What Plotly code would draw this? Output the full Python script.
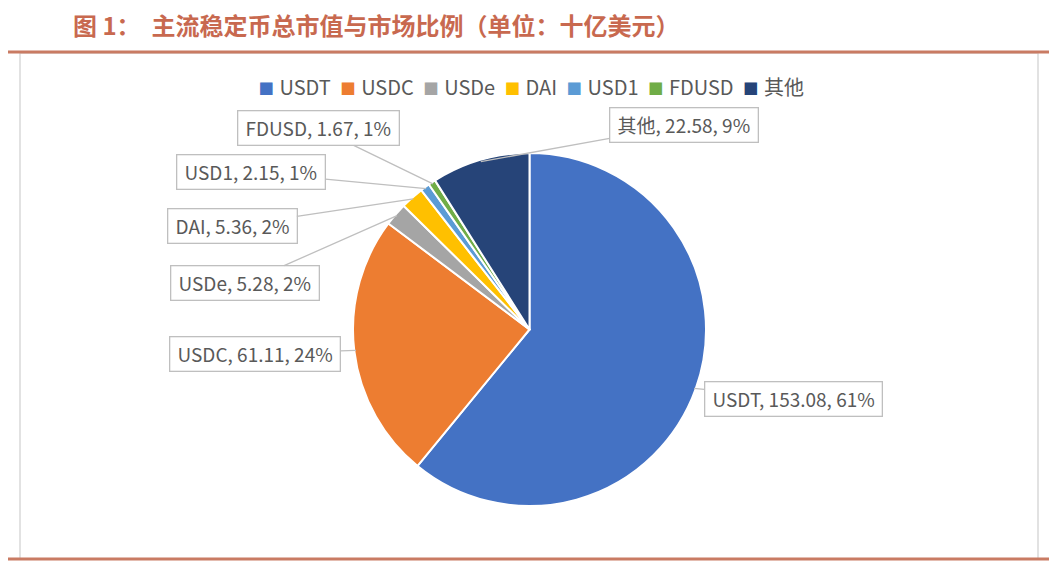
import math
import plotly.graph_objects as go

# page body has an 8px margin; figure drawn in the remaining area
OFF = 8
W, H = 1057 - OFF, 566 - OFF

# ---- data ----
names = ["USDT", "USDC", "USDe", "DAI", "USD1", "FDUSD", "其他"]
values = [153.08, 61.11, 5.28, 5.36, 2.15, 1.67, 22.58]
pcts = ["61%", "24%", "2%", "2%", "1%", "1%", "9%"]
colors = ["#4472C4", "#ED7D31", "#A5A5A5", "#FFC000", "#5B9BD5", "#70AD47", "#264478"]

title_text = "图 1：\u00a0 主流稳定币总市值与市场比例（单位：十亿美元）"


def px(x):
    return (x - OFF) / W


def py(y):
    return 1 - (y - OFF) / H


# ---- geometry (screen pixels) ----
cx, cy, r = 529.5, 329.5, 176.5
label_pos = {
    "USDT": (793, 399),
    "USDC": (255, 354),
    "USDe": (245, 283),
    "DAI": (232, 226),
    "USD1": (251, 172),
    "FDUSD": (318, 128),
    "其他": (684, 125),
}

FONT = "Noto Sans CJK SC, Noto Sans, sans-serif"
NB = "\u00a0"

fig = go.Figure()
fig.add_trace(go.Pie(
    labels=names, values=values, sort=False, direction="clockwise", rotation=0,
    marker=dict(colors=colors, line=dict(color="white", width=2)),
    textinfo="none", hoverinfo="label+value+percent",
    domain=dict(x=[px(cx - 260), px(cx + 260)], y=[py(cy + r), py(cy - r)]),
    showlegend=False,
))

total = sum(values)
cum = 0.0
annotations = []
for n, v, p in zip(names, values, pcts):
    mid = (cum + v / 2) / total
    cum += v
    th = 2 * math.pi * mid
    tx = cx + r * 0.99 * math.sin(th)
    ty = cy - r * 0.99 * math.cos(th)
    lx, ly = label_pos[n]
    annotations.append(dict(
        x=px(tx), y=py(ty), xref="paper", yref="paper",
        ax=lx - tx, ay=ly - ty, axref="pixel", ayref="pixel",
        text=f"{NB}{n}, {v:.2f}, {p}{NB}", showarrow=True, arrowhead=0,
        arrowwidth=1.3, arrowcolor="#BFBFBF",
        font=dict(family=FONT, size=19, color="#595959"),
        bgcolor="white", bordercolor="#BFBFBF", borderwidth=1.3, borderpad=3,
        xanchor="center", yanchor="middle",
    ))

# legend row built from the series names and colours
legend_parts = []
for n, c in zip(names, colors):
    legend_parts.append(
        f'<span style="color:{c};font-family:DejaVu Sans;font-size:25px">▪</span>{NB}{n}'
    )
legend_text = (NB * 2).join(legend_parts)
annotations.append(dict(
    x=px(530.5), y=py(87), xref="paper", yref="paper", xanchor="center", yanchor="middle",
    text=legend_text, showarrow=False,
    font=dict(family=FONT, size=20, color="#595959"),
))

annotations.append(dict(
    x=px(72), y=py(24), xref="paper", yref="paper", xanchor="left", yanchor="middle",
    text=f"<b>{title_text}</b>", showarrow=False, borderpad=0,
    font=dict(family=FONT, size=24, color="#C8694F"),
))

shapes = [
    dict(type="rect", xref="paper", yref="paper", x0=px(20), x1=px(1038),
         y0=py(559), y1=py(53), line=dict(color="#D9D9D9", width=1.5),
         fillcolor="rgba(0,0,0,0)", layer="below"),
    dict(type="line", xref="paper", yref="paper", x0=px(7), x1=px(1052),
         y0=py(52), y1=py(52), line=dict(color="#C97B63", width=3)),
    dict(type="line", xref="paper", yref="paper", x0=px(3), x1=px(1052),
         y0=py(559), y1=py(559), line=dict(color="#C97B63", width=3)),
]

fig.update_layout(
    width=W, height=H, margin=dict(l=0, r=0, t=0, b=0),
    paper_bgcolor="white", plot_bgcolor="white",
    font=dict(family=FONT, color="#595959"),
    showlegend=False,
    annotations=annotations, shapes=shapes,
)

fig.write_html("out.html")
